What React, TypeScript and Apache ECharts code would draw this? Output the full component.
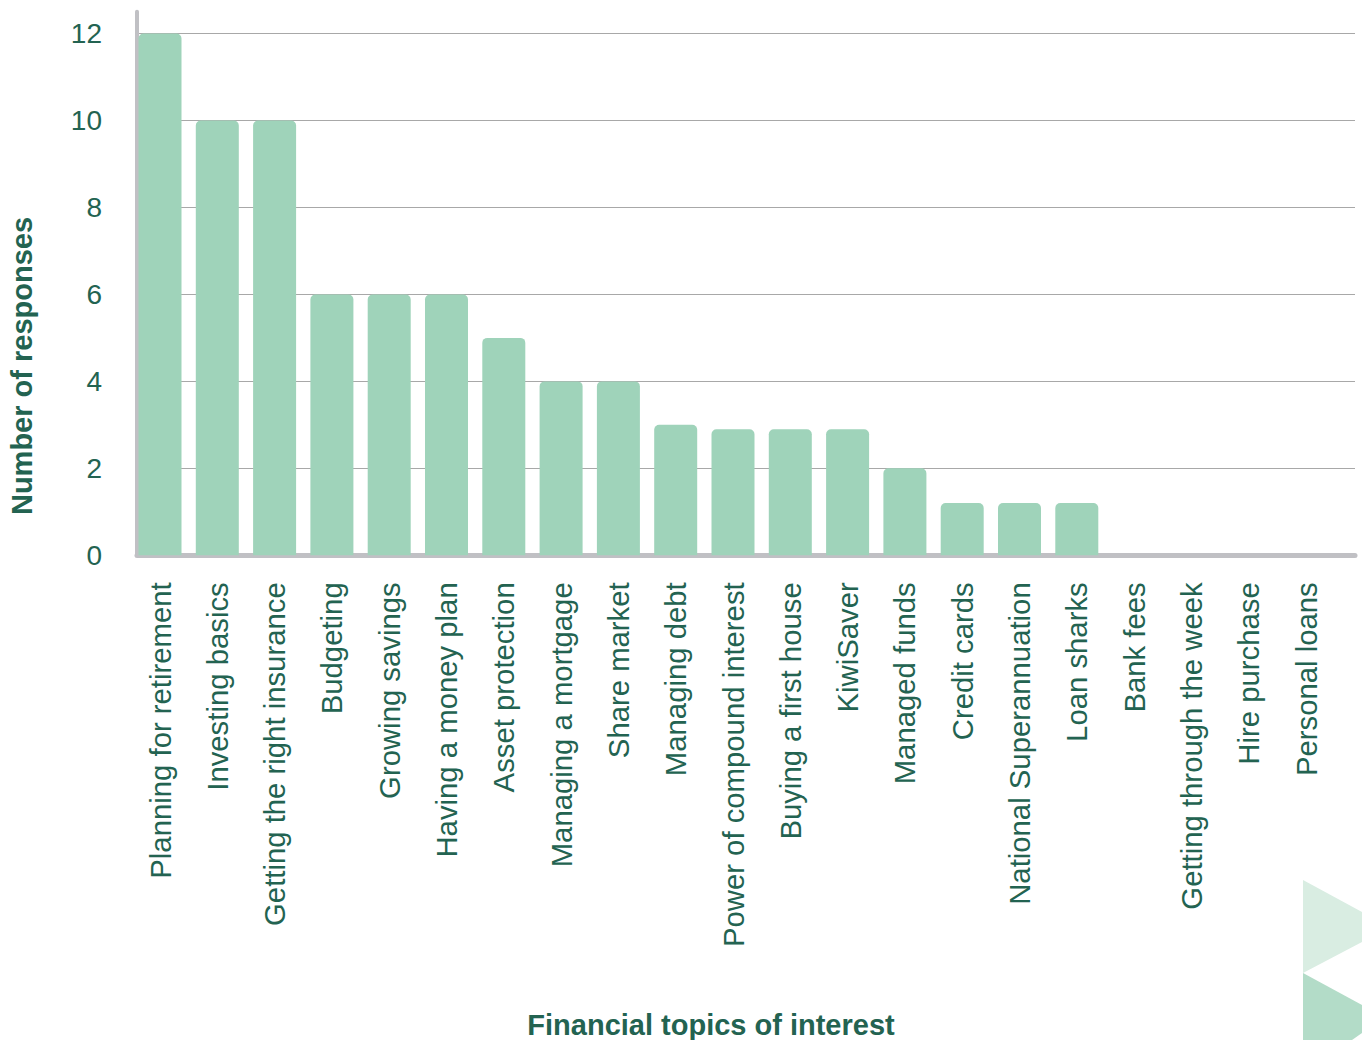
import React, { useEffect, useRef } from "react";
import * as echarts from "echarts";

const categories = [
  "Planning for retirement",
  "Investing basics",
  "Getting the right insurance",
  "Budgeting",
  "Growing savings",
  "Having a money plan",
  "Asset protection",
  "Managing a mortgage",
  "Share market",
  "Managing debt",
  "Power of compound interest",
  "Buying a first house",
  "KiwiSaver",
  "Managed funds",
  "Credit cards",
  "National Superannuation",
  "Loan sharks",
  "Bank fees",
  "Getting through the week",
  "Hire purchase",
  "Personal loans",
];
const responses = [12, 10, 10, 6, 6, 6, 5, 4, 4, 3, 2.9, 2.9, 2.9, 2, 1.2, 1.2, 1.2, 0, 0, 0, 0];
const yTicks = [0, 2, 4, 6, 8, 10, 12];
const yTitle = "Number of responses";
const xTitle = "Financial topics of interest";

const FONT = "'Liberation Sans', Arial, Helvetica, sans-serif";
const TEXT = "#236351";

export default function App() {
  const ref = useRef<HTMLDivElement>(null);
  useEffect(() => {
    document.body.style.margin = "0";
    const chart = echarts.init(ref.current!, null, { renderer: "svg" });
    const top = 11.8;
    const height = 543.5;
    chart.setOption({
      animation: false,
      backgroundColor: "#ffffff",
      grid: [
        { left: 137, width: 1218, top, height, containLabel: false },
        { left: 131.35, width: 1203.3, top, height, containLabel: false },
      ],
      xAxis: [
        {
          gridIndex: 0,
          type: "value",
          min: 0,
          max: 1,
          offset: 4,
          axisLine: { show: true, lineStyle: { color: "#c0c0c4", width: 5, cap: "round" } },
          axisTick: { show: false },
          axisLabel: { show: false },
          splitLine: { show: false },
        },
        {
          gridIndex: 1,
          type: "category",
          data: categories,
          axisLine: { show: false },
          axisTick: { show: false },
          axisLabel: {
            rotate: 90,
            margin: 27,
            fontSize: 29.3,
            fontFamily: FONT,
            color: TEXT,
            interval: 0,
          },
        },
      ],
      yAxis: [
        {
          gridIndex: 0,
          type: "value",
          min: 0,
          max: 12.5,
          interval: 2,
          axisLine: { show: true, lineStyle: { color: "#c0c0c4", width: 4, cap: "round" } },
          axisTick: { show: false },
          axisLabel: {
            margin: 35,
            fontSize: 28,
            fontFamily: FONT,
            color: TEXT,
            showMaxLabel: false,
            padding: [4, 0, 0, 0],
            formatter: (v: number) => (yTicks.includes(v) ? String(v) : ""),
          },
          splitLine: { show: true, showMaxLine: false, showMinLine: false, lineStyle: { color: "#a8a8a8", width: 1 } },
        },
        {
          gridIndex: 1,
          type: "value",
          min: 0,
          max: 12.5,
          show: false,
          splitLine: { show: false },
        },
      ],
      series: [
        {
          type: "bar",
          xAxisIndex: 1,
          yAxisIndex: 1,
          data: responses,
          barWidth: 43,
          itemStyle: { color: "#9fd3ba", borderRadius: [5, 5, 0, 0] },
        },
      ],
      graphic: [
        {
          type: "text",
          x: 22,
          y: 366,
          rotation: Math.PI / 2,
          style: {
            text: yTitle,
            fontSize: 29,
            fontWeight: "bold",
            fontFamily: FONT,
            fill: TEXT,
            align: "center",
            verticalAlign: "middle",
          },
        },
        {
          type: "text",
          x: 711,
          y: 1025,
          style: {
            text: xTitle,
            fontSize: 29,
            fontWeight: "bold",
            fontFamily: FONT,
            fill: TEXT,
            align: "center",
            verticalAlign: "middle",
          },
        },
        {
          type: "polygon",
          shape: { points: [[1303, 880], [1362, 912], [1362, 942], [1303, 973]] },
          style: { fill: "#d9ede2" },
        },
        {
          type: "polygon",
          shape: { points: [[1303, 973], [1362, 1005], [1362, 1033], [1352, 1040], [1303, 1040]] },
          style: { fill: "#b3dcc8" },
        },
      ],
    });
    return () => chart.dispose();
  }, []);
  return <div ref={ref} style={{ width: 1362, height: 1040 }} />;
}
